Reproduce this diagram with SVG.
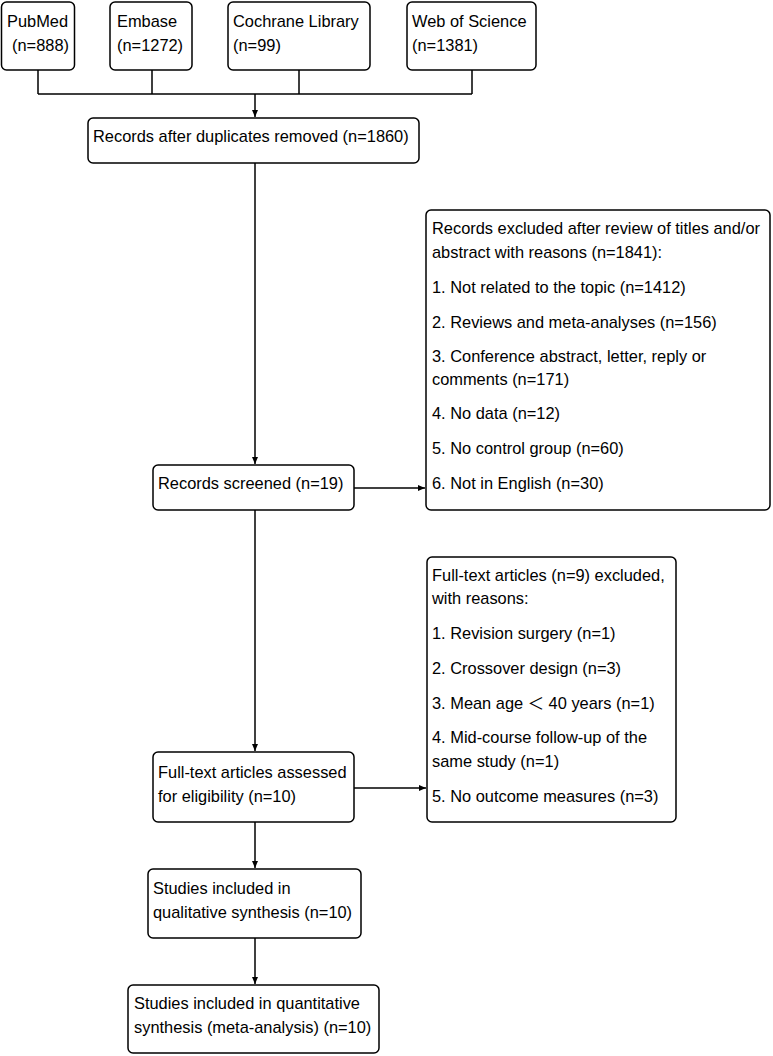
<svg xmlns="http://www.w3.org/2000/svg" width="773" height="1056" viewBox="0 0 773 1056">
<style>
.box{fill:#fff;stroke:#000;stroke-width:1.5}
.t{font-family:"Liberation Sans",Arial,"Noto Sans CJK SC",sans-serif;font-size:16.4px;fill:#000}
.c{fill:none;stroke:#000;stroke-width:1.5}
</style>
<defs>
<marker id="ah" markerWidth="8" markerHeight="8" refX="7" refY="4" orient="auto" markerUnits="userSpaceOnUse">
<path d="M0,1 L7,4 L0,7 Z" fill="#000"/>
</marker>
</defs>
<rect width="773" height="1056" fill="#fff"/>
<g id="connectors">
<path class="c" d="M38,70 V94 M152,70 V94 M299,70 V94 M472,70 V94 M38,94 H472"/>
<path class="c" d="M255,94 V117" marker-end="url(#ah)"/>
<path class="c" d="M255,163 V464" marker-end="url(#ah)"/>
<path class="c" d="M354,488 H425" marker-end="url(#ah)"/>
<path class="c" d="M255,510 V751" marker-end="url(#ah)"/>
<path class="c" d="M354,788 H426" marker-end="url(#ah)"/>
<path class="c" d="M255,822 V868" marker-end="url(#ah)"/>
<path class="c" d="M255,938 V984" marker-end="url(#ah)"/>
</g>
<g id="pubmed">
<rect class="box" x="1.5" y="2" width="73" height="68" rx="5"/>
<text class="t" x="7" y="27">PubMed</text>
<text class="t" x="12" y="51">(n=888)</text>
</g>
<g id="embase">
<rect class="box" x="110" y="2" width="82" height="68" rx="5"/>
<text class="t" x="117" y="27">Embase</text>
<text class="t" x="117" y="51">(n=1272)</text>
</g>
<g id="cochrane">
<rect class="box" x="228" y="2" width="142" height="68" rx="5"/>
<text class="t" x="233" y="27">Cochrane Library</text>
<text class="t" x="233" y="51">(n=99)</text>
</g>
<g id="wos">
<rect class="box" x="407" y="2" width="129" height="68" rx="5"/>
<text class="t" x="412" y="27">Web of Science</text>
<text class="t" x="412" y="51">(n=1381)</text>
</g>
<g id="dedup">
<rect class="box" x="88" y="118" width="331" height="45" rx="5"/>
<text class="t" x="93" y="142">Records after duplicates removed (n=1860)</text>
</g>
<g id="screened">
<rect class="box" x="153" y="465" width="201" height="45" rx="5"/>
<text class="t" x="158" y="489">Records screened (n=19)</text>
</g>
<g id="excluded1">
<rect class="box" x="426" y="210" width="344" height="300" rx="5"/>
<text class="t" x="432" y="234">Records excluded after review of titles and/or</text>
<text class="t" x="432" y="258">abstract with reasons (n=1841):</text>
<text class="t" x="432" y="293">1. Not related to the topic (n=1412)</text>
<text class="t" x="432" y="328">2. Reviews and meta-analyses (n=156)</text>
<text class="t" x="432" y="362">3. Conference abstract, letter, reply or</text>
<text class="t" x="432" y="385">comments (n=171)</text>
<text class="t" x="432" y="419">4. No data (n=12)</text>
<text class="t" x="432" y="454">5. No control group (n=60)</text>
<text class="t" x="432" y="489">6. Not in English (n=30)</text>
</g>
<g id="fulltext">
<rect class="box" x="153" y="752" width="201" height="70" rx="5"/>
<text class="t" x="158" y="778">Full-text articles assessed</text>
<text class="t" x="158" y="802">for eligibility (n=10)</text>
</g>
<g id="excluded2">
<rect class="box" x="427" y="557" width="249" height="265" rx="5"/>
<text class="t" x="432" y="581">Full-text articles (n=9) excluded,</text>
<text class="t" x="432" y="604">with reasons:</text>
<text class="t" x="432" y="639">1. Revision surgery (n=1)</text>
<text class="t" x="432" y="674">2. Crossover design (n=3)</text>
<text class="t" x="432" y="709">3. Mean age ＜ 40 years (n=1)</text>
<text class="t" x="432" y="743">4. Mid-course follow-up of the</text>
<text class="t" x="432" y="767">same study (n=1)</text>
<text class="t" x="432" y="802">5. No outcome measures (n=3)</text>
</g>
<g id="qualitative">
<rect class="box" x="148" y="869" width="213" height="69" rx="5"/>
<text class="t" x="153" y="894">Studies included in</text>
<text class="t" x="153" y="918">qualitative synthesis (n=10)</text>
</g>
<g id="quantitative">
<rect class="box" x="128" y="985" width="251" height="68" rx="5"/>
<text class="t" x="134" y="1009">Studies included in quantitative</text>
<text class="t" x="134" y="1033">synthesis (meta-analysis) (n=10)</text>
</g>
</svg>
